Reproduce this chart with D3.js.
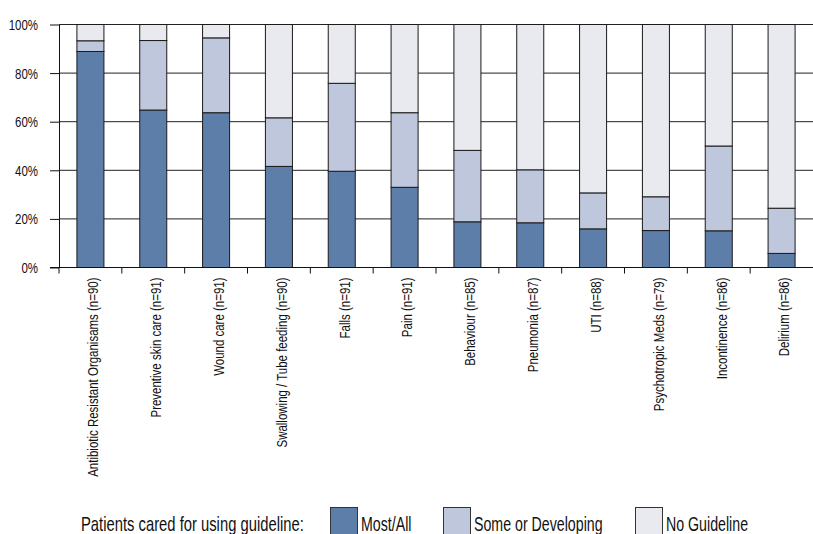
<!DOCTYPE html>
<html>
<head>
<meta charset="utf-8">
<script src="https://cdn.jsdelivr.net/npm/d3@7"></script>
<style>
  html, body { margin: 0; padding: 0; background: #fff; }
  svg { display: block; }
  text { font-family: "Liberation Sans", Arial, sans-serif; fill: #111; }
</style>
</head>
<body>
<svg id="chart" width="813" height="534"></svg>
<script>
// Guideline categories (bottom axis)
const categories = [
  "Antibiotic Resistant Organisams (n=90)",
  "Preventive skin care (n=91)",
  "Wound care (n=91)",
  "Swallowing / Tube feeding (n=90)",
  "Falls (n=91)",
  "Pain (n=91)",
  "Behaviour (n=85)",
  "Pneumonia (n=87)",
  "UTI (n=88)",
  "Psychotropic Meds (n=79)",
  "Incontinence (n=86)",
  "Delirium (n=86)"
];

// Percent of facilities in each group, per category
const mostAll  = [88.9, 64.8, 63.7, 41.6, 39.6, 33.0, 18.8, 18.4, 15.9, 15.2, 15.1, 5.8];
const someDev  = [4.4, 28.6, 30.8, 20.0, 36.2, 30.7, 29.4, 21.8, 14.8, 13.9, 34.9, 18.6];
const noGuide  = [6.7, 6.6, 5.5, 38.4, 24.2, 36.3, 51.8, 59.8, 69.3, 70.9, 50.0, 75.6];

const seriesKeys   = ["Most/All", "Some or Developing", "No Guideline"];
const seriesColors = ["#5d7ea8", "#bfc7dc", "#e8eaf0"];
const yTicks       = [0, 20, 40, 60, 80, 100];
const legendTitle  = "Patients cared for using guideline:";

// Table for d3.stack
const table = categories.map((c, i) => ({
  category: c,
  "Most/All": mostAll[i],
  "Some or Developing": someDev[i],
  "No Guideline": noGuide[i]
}));

const svg = d3.select("#chart");
const plotLeft = 59, plotRight = 813, plotTop = 24.5, plotBottom = 267.5;
// horizontal squeeze that turns the regular face into a narrow one
const narrow = 0.82, legendNarrow = 0.74;

const x = d3.scaleBand()
  .domain(categories)
  .range([plotLeft, plotRight])
  .paddingInner(0.57)
  .paddingOuter(0.285);

const y = d3.scaleLinear().domain([0, 100]).range([plotBottom, plotTop]);

const color = d3.scaleOrdinal().domain(seriesKeys).range(seriesColors);

// Horizontal gridlines
svg.append("g")
  .selectAll("line")
  .data(yTicks)
  .join("line")
  .attr("x1", plotLeft).attr("x2", plotRight)
  .attr("y1", d => y(d)).attr("y2", d => y(d))
  .attr("stroke", "#222").attr("stroke-width", 1);

// Y axis (ticks and domain from d3.axisLeft, labels placed with a narrow squeeze)
const yAxis = svg.append("g")
  .attr("transform", `translate(${plotLeft},0)`)
  .call(d3.axisLeft(y).tickValues(yTicks).tickFormat(d => d + "%").tickSize(9).tickSizeOuter(0).tickPadding(21));
yAxis.select(".domain").attr("stroke", "#111");
yAxis.selectAll(".tick line").attr("stroke", "#111");
yAxis.selectAll(".tick text")
  .attr("x", null)
  .attr("dy", "0.35em")
  .attr("transform", `translate(-21,0) scale(${narrow},1)`)
  .attr("font-size", 14)
  .attr("fill", "#111")
  .style("font-family", "'Liberation Sans', Arial, sans-serif");

// Stacked bars
const stacked = d3.stack().keys(seriesKeys)(table);
svg.append("g")
  .selectAll("g")
  .data(stacked)
  .join("g")
  .attr("fill", d => color(d.key))
  .selectAll("rect")
  .data(d => d)
  .join("rect")
  .attr("x", d => x(d.data.category))
  .attr("width", x.bandwidth())
  .attr("y", d => y(d[1]))
  .attr("height", d => y(d[0]) - y(d[1]))
  .attr("stroke", "#1a1a1a")
  .attr("stroke-width", 1);

// Bottom axis: baseline, boundary ticks between categories, rotated labels
const step = x.step();
const gap = (step - x.bandwidth()) / 2;
const xAxis = svg.append("g");
xAxis.append("line")
  .attr("x1", plotLeft - 9).attr("x2", plotRight)
  .attr("y1", plotBottom).attr("y2", plotBottom)
  .attr("stroke", "#111");
xAxis.selectAll("line.boundary")
  .data(categories)
  .join("line")
  .attr("class", "boundary")
  .attr("x1", d => x(d) - gap).attr("x2", d => x(d) - gap)
  .attr("y1", plotBottom).attr("y2", plotBottom + 6)
  .attr("stroke", "#111");
xAxis.selectAll("text")
  .data(categories)
  .join("text")
  .attr("transform", d => `translate(${x(d) + x.bandwidth() / 2 + 3},${plotBottom + 10}) rotate(-90) scale(${narrow},1)`)
  .attr("text-anchor", "end")
  .attr("dy", "0.35em")
  .attr("font-size", 14)
  .text(d => d);

// Legend: title, then a swatch + label for each series
const legendBase = 530.5, legendX = 81;
const swatchX = [330, 443, 635];
const legend = svg.append("g");
legend.append("text")
  .attr("transform", `translate(${legendX},${legendBase}) scale(${legendNarrow},1)`)
  .attr("font-size", 20)
  .text(legendTitle);
seriesKeys.forEach((k, i) => {
  legend.append("rect")
    .attr("x", swatchX[i] + 0.5).attr("y", 507.5)
    .attr("width", 27).attr("height", 28)
    .attr("fill", color(k))
    .attr("stroke", "#333").attr("stroke-width", 1);
  legend.append("text")
    .attr("transform", `translate(${swatchX[i] + 31},${legendBase}) scale(${legendNarrow * 0.96},1)`)
    .attr("font-size", 20)
    .text(k);
});
</script>
</body>
</html>
